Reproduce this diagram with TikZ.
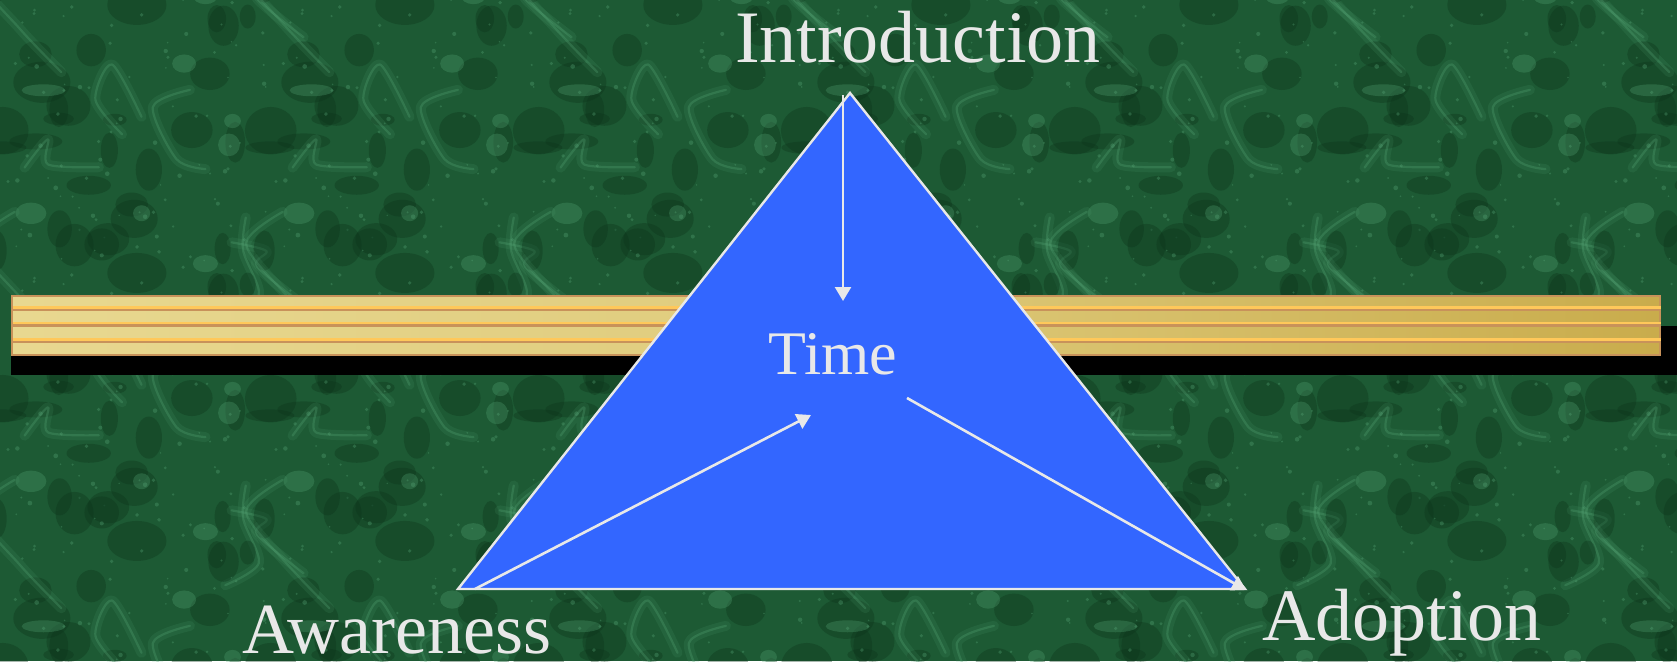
\documentclass[tikz,border=0pt]{standalone}
\usepackage{fontspec}
\setmainfont{Liberation Serif}
\usetikzlibrary{arrows.meta}
\definecolor{bgG}{HTML}{1D5A34}
\definecolor{darkG}{HTML}{0C331A}
\definecolor{lightG}{HTML}{55A475}
\definecolor{triBlue}{HTML}{3366FF}
\definecolor{lineGray}{HTML}{E8E8E8}
\definecolor{goldL}{HTML}{E8D890}
\definecolor{goldD}{HTML}{C9AC4C}
\definecolor{goldB}{HTML}{C8925A}
\definecolor{goldY}{HTML}{FFC85A}
\tikzset{
  lbl/.style={text=lineGray, inner sep=0pt, anchor=base},
  conn/.style={draw=lineGray, line width=2.6pt, -{Triangle[length=14pt,width=16pt]}},
  band/.style={left color=goldL, right color=goldD, middle color=goldL!70!goldD},
}
\begin{document}
\begin{tikzpicture}[x=1pt,y=-1pt]
\useasboundingbox (0,0) rectangle (1677,661);
\fill[bgG] (0,0) rectangle (1677,661);
% marble texture (tiled)
\begin{scope}
\clip (0,0) rectangle (1677,661);
\foreach \tx in {0,...,6}{
 \foreach \ty in {0,...,2}{
  \begin{scope}[shift={(\tx*268-20,\ty*268-30)}]
   \pgfmathsetseed{4242}
   \foreach \k in {1,...,28}{
     \pgfmathsetmacro\px{rnd*268}\pgfmathsetmacro\py{rnd*268}
     \pgfmathsetmacro\rx{8+rnd*24}\pgfmathsetmacro\ry{6+rnd*18}
     \fill[darkG,opacity=0.35] (\px,\py) ellipse[x radius=\rx pt, y radius=\ry pt];
   }
   \foreach \k in {1,...,6}{
     \pgfmathsetmacro\ax{rnd*268}\pgfmathsetmacro\ay{rnd*268}
     \pgfmathsetmacro\bx{\ax+(rnd-0.5)*110}\pgfmathsetmacro\by{\ay+(rnd-0.5)*110}
     \pgfmathsetmacro\cx{\bx+(rnd-0.5)*110}\pgfmathsetmacro\cy{\by+(rnd-0.5)*110}
     \pgfmathsetmacro\dx{\cx+(rnd-0.5)*110}\pgfmathsetmacro\dy{\cy+(rnd-0.5)*110}
     \draw[lightG,opacity=0.14,line width=10pt,line cap=round,line join=round] plot[smooth] coordinates {(\ax,\ay) (\bx,\by) (\cx,\cy) (\dx,\dy)};
     \draw[lightG,opacity=0.3,line width=2.2pt,line cap=round,line join=round] plot[smooth] coordinates {(\ax,\ay) (\bx,\by) (\cx,\cy) (\dx,\dy)};
   }
   \foreach \k in {1,...,7}{
     \pgfmathsetmacro\px{rnd*268}\pgfmathsetmacro\py{rnd*268}
     \pgfmathsetmacro\rx{8+rnd*14}\pgfmathsetmacro\ry{5+rnd*8}
     \fill[lightG,opacity=0.3] (\px,\py) ellipse[x radius=\rx pt, y radius=\ry pt];
   }
   \foreach \k in {1,...,90}{
     \pgfmathsetmacro\px{rnd*268}\pgfmathsetmacro\py{rnd*268}
     \pgfmathsetmacro\rr{0.8+rnd*1.6}
     \fill[lightG,opacity=0.35] (\px,\py) circle[radius=\rr pt];
   }
  \end{scope}
 }
}
\end{scope}
% gold bar with shadow
\fill[black] (11,326) rectangle (1690,375);
\fill[goldB] (11,295) rectangle (1661,356);
\fill[band] (13,297) rectangle (1659,306);
\fill[band] (13,311.7) rectangle (1659,321.7);
\fill[band] (13,327.7) rectangle (1659,337.7);
\fill[band] (13,343.3) rectangle (1659,353.5);
\fill[goldY] (13,306) rectangle (1661,309);
\fill[goldY] (13,321.7) rectangle (1661,324.3);
\fill[goldY] (13,337.7) rectangle (1661,341);
% triangle
\coordinate (top) at (850,93);
\coordinate (bl) at (458,589);
\coordinate (br) at (1245,589);
\filldraw[fill=triBlue, draw=lineGray, line width=2.4pt, line join=miter] (top) -- (bl) -- (br) -- cycle;
% connector end points
\coordinate (introS) at (843,95);
\coordinate (introE) at (843,301);
\coordinate (awS) at (475,589);
\coordinate (awE) at (811,415);
\coordinate (adS) at (907,398);
\coordinate (adE) at (1246,590);
\draw[conn] (introS) -- (introE);
\draw[conn] (awS) -- (awE);
\draw[conn] (adS) -- (adE);
% labels
\node[lbl, font=\fontsize{74}{74}\selectfont] (intro) at (918,63) {Introduction};
\node[lbl, font=\fontsize{62}{62}\selectfont] (time) at (833,374) {Time};
\node[lbl, font=\fontsize{72}{72}\selectfont] (aware) at (397,653) {Awareness};
\node[lbl, font=\fontsize{74}{74}\selectfont] (adopt) at (1402,640) {Adoption};
\end{tikzpicture}
\end{document}
